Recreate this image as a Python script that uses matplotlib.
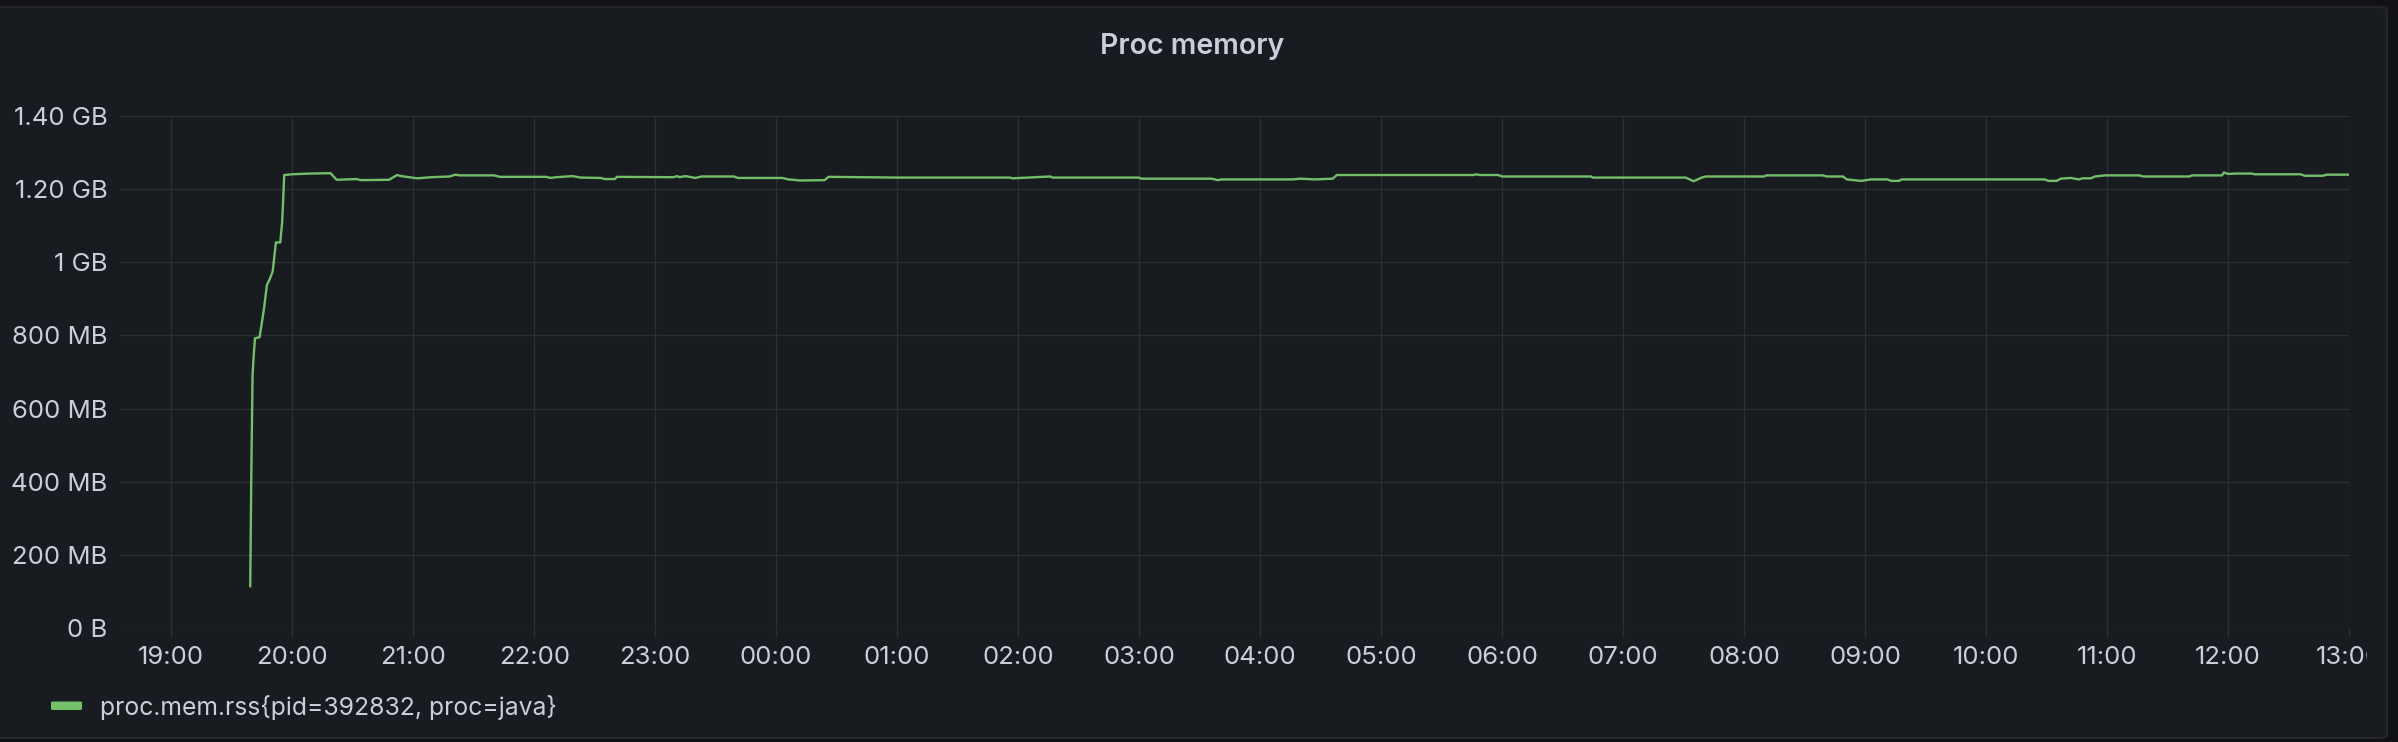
import datetime as dt
import matplotlib
matplotlib.use("Agg")
import matplotlib.pyplot as plt
import matplotlib.dates as mdates
from matplotlib.patches import FancyBboxPatch
from matplotlib.transforms import Bbox
from matplotlib.ticker import FuncFormatter

# memory samples (local time, MB)
times = [
    "19:39:10", "19:39:40", "19:40:19", "19:40:48", "19:41:31", "19:43:48",
    "19:45:47", "19:47:28", "19:48:47", "19:50:17", "19:51:54", "19:54:04",
    "19:55:01", "19:56:02", "19:59:49", "20:09:00", "20:19:00", "20:22:00",
    "20:32:00", "20:34:00", "20:48:00", "20:52:00", "20:54:00", "20:58:00",
    "21:02:00", "21:09:00", "21:18:00", "21:21:00", "21:23:00", "21:40:00",
    "21:43:00", "22:06:00", "22:08:00", "22:11:00", "22:19:00", "22:23:00",
    "22:33:00", "22:35:00", "22:40:00", "22:41:00", "23:09:00", "23:11:00",
    "23:12:00", "23:15:00", "23:20:00", "23:23:00", "23:39:00", "23:41:00",
    "00:03:00", "00:06:00", "00:12:00", "00:24:00", "00:26:00", "01:00:00",
    "01:56:00", "01:57:00", "02:16:00", "02:17:00", "03:00:00", "03:01:00",
    "03:36:00", "03:39:00", "03:41:00", "04:16:00", "04:20:00", "04:27:00",
    "04:36:00", "04:38:00", "05:46:00", "05:47:00", "05:49:00", "05:58:00",
    "06:00:00", "06:44:00", "06:45:00", "07:31:00", "07:35:00", "07:39:00",
    "07:41:00", "08:10:00", "08:11:00", "08:39:00", "08:41:00", "08:49:00",
    "08:51:00", "08:58:00", "09:03:00", "09:11:00", "09:13:00", "09:17:00",
    "09:18:00", "10:29:00", "10:31:00", "10:35:00", "10:37:00", "10:42:00",
    "10:46:00", "10:48:00", "10:52:00", "10:54:00", "10:59:00", "11:16:00",
    "11:18:00", "11:41:00", "11:42:00", "11:57:00", "11:58:00", "12:00:00",
    "12:04:00", "12:12:00", "12:13:00", "12:36:00", "12:38:00", "12:47:00",
    "12:49:00", "13:00:00",
]
rss_mb = [
    115, 401, 692, 737, 792, 795,
    865, 938, 953, 974, 1054, 1054,
    1110, 1238, 1240, 1242, 1243, 1225,
    1227, 1224, 1225, 1238, 1235, 1232,
    1229, 1232, 1234, 1239, 1237, 1237,
    1233, 1233, 1230, 1232, 1235, 1231,
    1230, 1227, 1227, 1233, 1232, 1235,
    1232, 1235, 1230, 1234, 1234, 1230,
    1230, 1226, 1223, 1224, 1233, 1231,
    1231, 1229, 1234, 1231, 1231, 1228,
    1228, 1224, 1226, 1226, 1228, 1226,
    1228, 1238, 1238, 1240, 1238, 1238,
    1234, 1234, 1231, 1231, 1221, 1231,
    1234, 1234, 1237, 1237, 1234, 1234,
    1226, 1222, 1226, 1226, 1222, 1222,
    1226, 1226, 1222, 1222, 1228, 1230,
    1226, 1229, 1229, 1234, 1237, 1237,
    1234, 1234, 1237, 1237, 1245, 1241,
    1242, 1242, 1240, 1240, 1236, 1236,
    1239, 1239,
]
y_ticks_mb = [0, 200, 400, 600, 800, 1000, 1200, 1400]
title = "Proc memory"
series_name = "proc.mem.rss{pid=392832, proc=java}"

view_start = "18:34:35"
view_end = "13:00:00"

BG_OUT = "#111217"
BG = "#181b1f"
BORDER = "#24262c"
GRID = "#2c2f35"
TEXT = "#ccccdc"
GREEN = "#73bf69"

plt.rcParams["font.family"] = ["Inter", "DejaVu Sans"]


def to_dates(labels, day0=dt.date(2023, 5, 1)):
    out = []
    day = day0
    prev = None
    for s in labels:
        t = dt.datetime.strptime(s, "%H:%M:%S").time()
        if prev is not None and t < prev:
            day = day + dt.timedelta(days=1)
        out.append(dt.datetime.combine(day, t))
        prev = t
    return out


x = to_dates(times)
x0, x1 = to_dates([view_start, view_end])


def fmt_bytes(v, pos=None):
    if v == 0:
        return "0 B"
    if v < 1000:
        return f"{v:.0f} MB"
    if v == 1000:
        return "1 GB"
    return f"{v / 1000:.2f} GB"


W, H = 2398, 742
fig = plt.figure(figsize=(W / 100, H / 100), dpi=100)
fig.patch.set_facecolor(BG_OUT)

# panel card
panel = FancyBboxPatch((-20 / W, 4 / H), (2387 + 20) / W, 731 / H,
                       boxstyle="round,pad=0,rounding_size=0.004",
                       transform=fig.transFigure, facecolor=BG,
                       edgecolor=BORDER, linewidth=1.5, zorder=0)
fig.patches.append(panel)

ax = fig.add_axes([120 / W, 113.7 / H, 2229 / W, 512.6 / H])
ax.set_zorder(2)
ax.set_facecolor("none")
ax.plot(x, rss_mb, color=GREEN, linewidth=1.7, solid_joinstyle="round")

ax.set_xlim(x0, x1)
ax.set_ylim(0, 1400)
ax.set_yticks(y_ticks_mb)
ax.yaxis.set_major_formatter(FuncFormatter(fmt_bytes))
ax.xaxis.set_major_locator(mdates.HourLocator())
ax.xaxis.set_major_formatter(mdates.DateFormatter("%H:%M"))

for s in ax.spines.values():
    s.set_visible(False)
ax.grid(True, color=GRID, linewidth=1.0)
ax.set_axisbelow(True)
ax.tick_params(axis="x", colors=GRID, length=6.5, width=1.0, pad=6.5,
               labelcolor=TEXT, labelsize=18.5)
ax.tick_params(axis="y", length=0, pad=9, labelcolor=TEXT, labelsize=18.5)

fig.canvas.draw()
clip = Bbox([[0, 0], [2367, H]])
for lbl in ax.get_xticklabels():
    lbl.set_clip_box(clip)
    lbl.set_clip_on(True)

fig.text(1192 / W, 1 - 46 / H, title, ha="center", va="center", color=TEXT,
         fontsize=20.5, fontweight="semibold", zorder=3)

# legend
sw = FancyBboxPatch((51 / W, (H - 710) / H), 31 / W, 8.5 / H,
                    boxstyle="round,pad=0,rounding_size=0.001",
                    transform=fig.transFigure, facecolor=GREEN,
                    edgecolor="none", zorder=3)
fig.patches.append(sw)
fig.text(100 / W, 1 - 707 / H, series_name, ha="left", va="center",
         color=TEXT, fontsize=17.8, zorder=3)

fig.savefig("out.png", dpi=100, facecolor=fig.get_facecolor())
